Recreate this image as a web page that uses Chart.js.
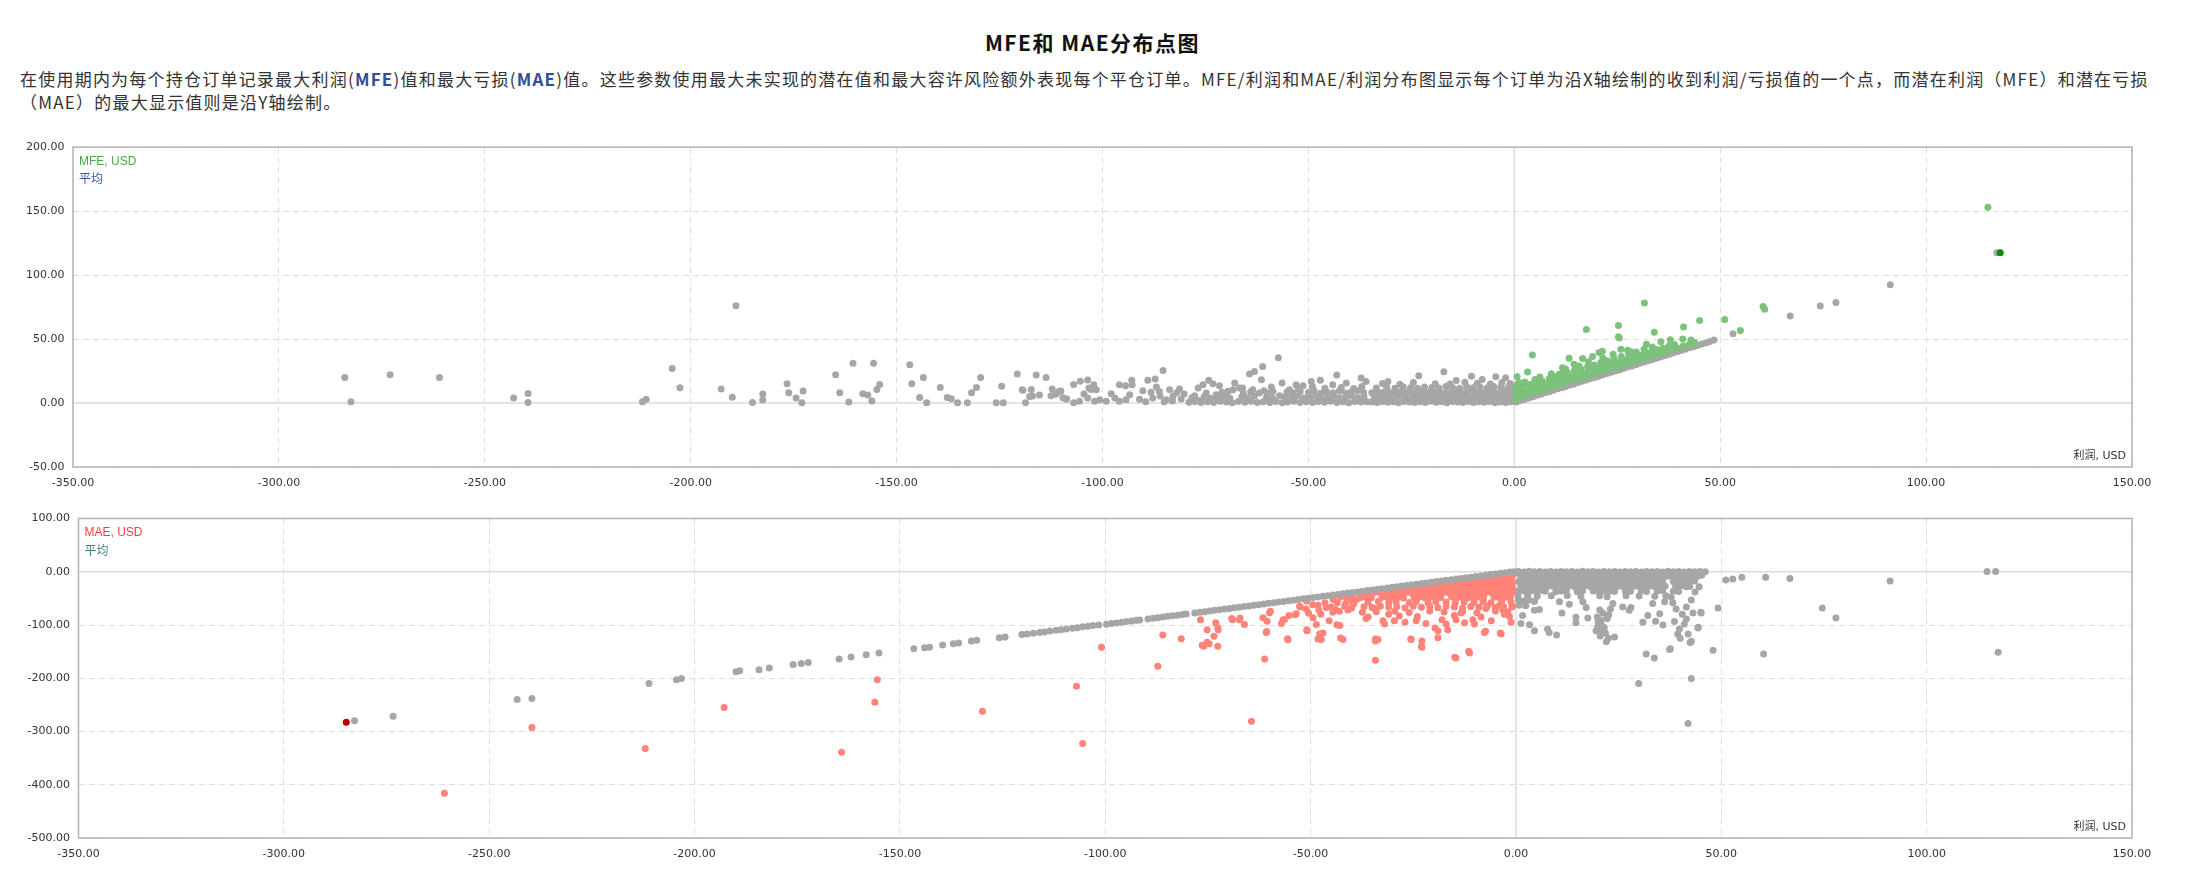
<!DOCTYPE html>
<html>
<head>
<meta charset="utf-8">
<script src="https://cdn.jsdelivr.net/npm/chart.js@4.4.1/dist/chart.umd.min.js"></script>
<style>
    body { margin: 0; background: #fff; width: 2185px; height: 883px; overflow: hidden; position: relative; }
    #titulo { position: absolute; top: 28px; left: 0; width: 2185px; text-align: center; font: bold 21px/28px "Noto Sans CJK SC", sans-serif; letter-spacing: 1.5px; color: #111; }
    #desc { position: absolute; top: 67px; left: 20px; font: 17px/23px "Noto Sans CJK SC", sans-serif; letter-spacing: 1.22px; color: #333; white-space: nowrap; }
    #desc b { color: #2f4f96; }
    #mfe { position: absolute; left: 0; top: 132px; }
    #mae { position: absolute; left: 0; top: 502px; }
</style>
</head>
<body>
<div id="titulo">MFE和 MAE分布点图</div>
<div id="desc">在使用期内为每个持仓订单记录最大利润(<b>MFE</b>)值和最大亏损(<b>MAE</b>)值。这些参数使用最大未实现的潜在值和最大容许风险额外表现每个平仓订单。MFE/利润和MAE/利润分布图显示每个订单为沿X轴绘制的收到利润/亏损值的一个点，而潜在利润（MFE）和潜在亏损<br>（MAE）的最大显示值则是沿Y轴绘制。</div>
<canvas id="mfe" width="2185" height="370"></canvas>
<canvas id="mae" width="2185" height="370"></canvas>
<script>
const xTicks = [-350, -300, -250, -200, -150, -100, -50, 0, 50, 100, 150];
const mfeTicks = [-50, 0, 50, 100, 150, 200];
const maeTicks = [-500, -400, -300, -200, -100, 0, 100];

// MFE chart, grey: losing trades and the profit = MFE diagonal
const mfeGrayLoss = [
[-284,20],[-282.5,1],[-273,22],[-261,20],[-243,4],[-239.5,7.5],[-239.5,0.5],
[-211.7,1],[-210.8,3],[-204.5,27],[-202.6,12],[-189,76],[-192.6,11],[-189.9,4.5],
[-185,0.5],[-182.5,7],[-182.5,2.3],[-176.6,15],[-176.2,8],[-174.4,4],[-172.7,9.4],[-173,0.3],
[-164.8,22],[-163.8,8],[-161.6,0.8],[-160.6,31],[-158.2,7.3],[-157,6.2],[-155.6,31],[-156,1.5],
[-154.8,10.6],[-154.1,14.5],[-146.8,30],[-146.3,15],[-143.5,20],[-144.4,4.4],[-142.7,0.3],
[-139.4,12.2],[-137.7,4.4],[-136.7,3.4],[-135.2,0.3],[-132.8,0.3],[-131.8,8],[-130.6,12.2],[-129.6,20],
[-125.8,0.3],[-124.5,13.2],[-124.1,0.3],[-120.7,22.6],[-119.3,10],[-118.7,0.3],[-117.3,10.6],[-117,5.4],
[-116.1,21.8],[-115.3,6.2],[-113.7,20],[-112.2,11],[-111.3,6.8],[-110.1,9.4],[-109.6,4.2],[-108.7,3.4],
[-107,14.5],[-107,0.3],[-105.4,17],[-103.6,18],[-104.5,7],[-102.8,10.6],[-103.6,4],[-105.6,1.3],[-101.9,1.3],
[-100.7,2.6],[-101.5,10.4],[-102.1,14.3],[-103.3,11.7],[-108.8,3],[-110.6,9],[-112.5,5.7],[-117.7,5],[-119.5,10.4],
[-99.1,1.3],[-97.9,7.3],[-95.9,14.3],[-94.4,13.5],[-92.9,17.7],[-92.8,14.3],[-93.4,6.5],[-95.9,1.3],[-94.3,2.6],
[-89,17.7],[-87.2,18.8],[-85.3,25.5],[-86.9,12.5],[-86.2,9],[-83.7,10.4],[-81.3,11],[-87.8,4],[-84.5,2.6],
[-82.9,5.2],[-80.9,3.1],[-88.2,8.5],[-86,5.5],[-85,1],[-83,1.5],[-82,8],[-80.2,7],[-91,3],[-90.2,9.5],[-89.5,1],[-97,4],
[-76.8,11.7],[-77.6,5.7],[-75.6,14.3],[-74.2,17.7],[-73.2,15.1],[-71.6,13.5],[-74.8,7.8],[-72.4,6.5],[-76.4,2],[-73.2,1.3],
[-70,7.3],[-67.9,15.6],[-68.3,10.4],[-66.7,11.7],[-64.3,22.6],[-63.1,24.7],[-61.1,28.6],[-61.4,18.2],[-63.5,10.4],[-61.9,7.8],
[-57.3,35.4],[-56.4,15.6],[-58.6,9],[-57,5.7],[-54.6,10.4],[-53,14.3],[-51.3,13.5],[-49.3,16.9],[-47.1,17.7],[-44.1,14.3],
[-43.1,21.9],[-40.8,15.6],[-37.2,19.5],[-36,16.9],[-30.7,16.9],[-23.2,21.4],[-17.1,24.5],[-14.1,17.6],[-10.4,21],[-7.8,18.4],
[-4.5,20.5],[-2.1,19.7],
[-79,0.6],[-77.6,1.2],[-76.1,0.4],[-74.5,1],[-73,0.5],[-71.4,1.3],[-69.9,0.7],[-68.5,0.3],[-67,1.1],[-65.4,0.6],
[-63.9,1.4],[-62.4,0.4],[-61,0.9],[-59.4,0.5],[-57.9,1.2],[-56.4,0.3],[-55,0.8],[-53.5,1.3],[-52,0.5],[-50.5,1],
[-49,0.4],[-47.6,1.1],[-46.1,0.6],[-44.6,1.3],[-43.1,0.5],[-41.6,0.9],[-40.2,0.3],[-38.7,1.2],[-37.2,0.7],[-35.8,1],
[-78.3,4.2],[-75.3,5],[-73.8,3.8],[-72.2,4.6],[-70.7,5.3],[-69.1,3.9],[-66.2,4.8],[-64.7,4.1],[-63.1,5.5],[-60.2,4.4],
[-58.7,3.7],[-55.7,4.9],[-54.2,4.2],[-52.7,5.4],[-51.2,3.9],[-49.8,4.7],[-48.3,5.2],[-46.8,3.8],[-45.3,4.5],[-43.8,5.3],
[-42.4,4],[-40.9,4.8],[-39.4,5.5],[-38,4.1],[-36.5,4.9],
[-71,8.4],[-69.5,9.2],[-65.8,7.9],[-64,8.8],[-60.8,9.5],[-59.9,7.6],[-55.2,8.6],[-53.8,7.8],[-52,9.1],[-50,8.2],
[-48.6,9.4],[-47,7.7],[-45.6,8.9],[-44,8.1],[-42.5,9.3],[-41,7.9],[-39.6,8.7],[-38.1,9.6],[-36.6,8.3],
[-66,11.8],[-59,12.5],[-52.5,11.2],[-49,12.8],[-46,11.5],[-42,12.2],[-39,11.4],[-37,12.9],
[-34.6,0.8],[-33.3,0.4],[-32,1.1],[-30.7,0.6],[-29.4,0.9],[-28.1,0.3],[-26.8,1.2],[-25.5,0.7],[-24.2,0.5],[-22.9,1],
[-21.6,0.4],[-20.3,1.3],[-19,0.6],[-17.7,0.9],[-16.4,0.3],[-15.1,1.1],[-13.8,0.7],[-12.5,0.5],[-11.2,1.2],[-9.9,0.4],
[-8.6,0.9],[-7.3,0.6],[-6,1.1],[-4.7,0.3],[-3.4,0.8],[-2.1,0.5],[-0.8,1],
[-34,4.4],[-32.7,5],[-31.4,4.1],[-30.1,4.8],[-28.8,4.3],[-27.5,5.2],[-26.2,4.6],[-24.9,4],[-23.6,5.1],[-22.3,4.5],
[-21,4.9],[-19.7,4.2],[-18.4,5.3],[-17.1,4.7],[-15.8,4.1],[-14.5,5],[-13.2,4.4],[-11.9,4.8],[-10.6,4.2],[-9.3,5.2],
[-8,4.5],[-6.7,4.9],[-5.4,4.3],[-4.1,5.1],[-2.8,4.6],[-1.5,4],[-0.3,4.8],
[-34.6,8.1],[-33.3,8.8],[-32,8.3],[-30.7,9],[-29.4,8],[-28.1,8.6],[-26.8,8.4],[-25.5,9.1],[-24.2,7.9],[-22.9,8.7],
[-21.6,8.2],[-20.3,9],[-19,8.5],[-17.7,7.8],[-16.4,8.9],[-15.1,8.3],[-13.8,8.7],[-12.5,8],[-11.2,9.2],[-9.9,8.4],
[-8.6,8.8],[-7.3,8.1],[-6,9],[-4.7,8.5],[-3.4,8.2],[-2.1,8.9],[-0.8,8.4],
[-33.5,11.8],[-31,12.4],[-29,11.6],[-27,12.8],[-25.2,12],[-23.5,11.5],[-21.8,12.6],[-20,12.1],[-18.3,11.7],[-16.6,12.9],
[-15,12.2],[-13.3,11.6],[-11.6,12.7],[-10,12],[-8.3,12.5],[-6.6,11.8],[-5,12.9],[-3.3,12.3],[-1.6,11.9],[-0.4,12.6],
[-32,15.2],[-27.8,14.6],[-24.5,16],[-19.2,15.1],[-15.6,14.8],[-12,16.3],[-9,15.4],[-5.8,14.9],[-3,16.1],[-1,15.3]
];
const mfeGrayDiag = [
[0.5,0.8],[1.5,1.9],[2.5,2.8],[3.5,4],[4.5,4.9],[5.5,6],[6.5,6.9],[7.5,8.1],[8.5,8.9],[9.5,10],
[10.5,11.1],[11.5,11.9],[12.5,13],[13.5,14.1],[14.5,14.9],[15.5,16],[16.5,17.1],[17.5,18],[18.5,19.1],[19.5,19.9],
[20.5,21],[21.5,22.1],[22.5,23],[23.5,24],[24.5,25.1],[25.5,25.9],[26.5,27],[27.5,28.1],[28.5,29],[29.5,30],
[30.5,31.1],[31.5,32],[32.5,33],[33.5,34.1],[34.5,35],[35.5,36],[36.5,37.1],[37.5,38],[38.5,39],[39.5,40.1],
[40.5,41],[41.5,42],[42.5,43.1],[43.5,44],[44.5,45],[45.5,46.1],[46.5,47],[47.5,48],[48.5,49.2],
[53.1,54.2],[67,68],[74.3,75.8],[78.1,78.6],[91.3,92.4],[117.2,117.5]
];
// MFE chart, green: winning trades
const mfeGreen = [
[4.4,37.6],[3.2,24.2],[17.5,57.4],[25.3,60.5],[25.3,51.8],[25.5,50.8],[31.6,78.2],[34,55.3],[35.6,47.9],[37.9,49.5],
[41.1,59.5],[40.9,50],[42.9,49.2],[45,64.5],[51.1,65.3],[54.9,56.6],[60.4,75.5],[60.8,73.2],[115,153],[25.9,42.1],
[28.3,40],[32.1,46],[32,39.5],[37.8,42.9],[20.6,39.5],[19,36.3],[21.4,40.5],[15.7,29],[14.5,30.3],[12.5,26.3],
[10.9,22.4],[11.7,27.6],[13.3,35],[16.6,34.7],[9.7,18.9],[0.7,20.5],[5,18.4],[0.3,7.9],[0.5,3],[0.4,11.8],
[1.3,15.8],[2.1,11.8],[4,14.5],[6,15.8],[7.6,14.5],
[0.4,3.9],[1.8,5.5],[3.2,6.6],[4.6,8.2],[6,9.4],[7.4,11],[8.8,12.2],[10.2,13.8],[11.6,15],[13,16.6],
[14.4,17.8],[15.8,19.4],[17.2,20.6],[18.6,22.2],[20,23.4],[21.4,25],[22.8,26.2],[24.2,27.8],[25.6,29],[27,30.6],
[28.4,31.8],[29.8,33.4],[31.2,34.6],[32.6,36.2],[34,37.4],[35.4,39],[36.8,40.2],[38.2,41.8],[39.6,43],[41,44.6],
[42.4,45.8],[43.8,47.3],
[1.1,8.3],[2.5,9.4],[3.9,11],[5.3,12.1],[6.7,13.8],[8.1,15],[9.5,16.4],[10.9,17.8],[12.3,19.5],[13.7,20.6],
[15.1,22.2],[16.5,23.4],[17.9,25],[19.3,26.2],[20.7,27.9],[22.1,29],[23.5,30.6],[24.9,31.8],[26.3,33.4],[27.7,34.6],
[29.1,36.2],[30.5,37.3],[31.9,38.9],[33.3,40.1],[34.7,41.8],[36.1,42.9],[37.5,44.4],[38.9,45.7],
[0.5,11],[2,12.6],[3.6,14],[5.2,15.9],[6.8,17.2],[8.5,19.1],[10,20.4],[11.5,22.1],[13,23.4],[14.6,25.3],
[16.2,26.6],[17.8,28.4],[19.4,29.8],[21,31.6],[22.6,33],[24.2,34.8],[26,36.3],[27.8,38.4],[29.6,39.9],[31.5,42.1],
[33.5,43.8],
[0.8,14.9],[2.6,16.5],[6.2,20.4],[9,22.8],[12,26.2],[14.8,28.6],[18,32.3],[21.5,35.4],[24,38.2],[27.5,41.3]
];
const mfeMax = [[118,117.5]];

// MAE chart, grey: loss = MAE diagonal and winning trades
const maeGrayDiag = [
[-282.8,-280],[-273.4,-271.3],[-243.2,-240],[-239.6,-238],[-211.1,-210],[-204.4,-203],[-203.2,-200.6],[-189.9,-188],
[-189,-186],[-184.3,-184],[-181.8,-180.6],[-176,-174],[-174,-172.5],[-172.3,-170.6],[-164.8,-163.8],[-161.9,-160],
[-158.2,-156],[-155.1,-152.5],[-146.6,-144.4],[-144,-142.5],[-142.8,-141.9],[-139.6,-137.5],[-137,-135],[-135.7,-133.8],
[-132.6,-130],[-131.3,-128.8],[-125.8,-123.8],[-124.4,-122.5],
[-120.3,-118],[-119,-117],[-117.5,-115.5],[-116,-114],[-114.8,-113],[-113.5,-111.5],[-112,-110],[-110.8,-109],
[-109.5,-107.5],[-108,-106],[-106.8,-105],[-105.5,-103.5],[-104.2,-102.5],[-103,-101],[-101.6,-99.8],
[-99.7,-98.5],[-98.5,-97.3],[-97.3,-96.2],[-96,-95],[-94.8,-93.6],[-93.6,-92.5],[-92.4,-91.3],[-91.6,-90.5],
[-89.6,-88.6],[-88.4,-87.5],[-87.2,-86.2],[-86,-85],[-84.8,-83.8],[-83.6,-82.6],[-82.4,-81.5],[-81.2,-80.3],[-80.3,-79.4],
[-78.2,-77.3],[-77,-76.1],[-75.8,-74.9],[-74.6,-73.8],[-73.4,-72.5],[-72.2,-71.3],[-71,-70.1],[-69.8,-68.9],[-68.6,-67.8],
[-67.4,-66.5],[-66.2,-65.3],[-65,-64.1],[-63.8,-62.9],[-62.6,-61.8],[-61.4,-60.5],[-60.2,-59.3],[-59,-58.1],[-57.8,-56.9],
[-56.6,-55.8],[-55.4,-54.5],[-54.2,-53.3],[-53,-52.1],[-51.8,-50.9],[-50.6,-49.8],[-49.4,-48.5],[-48.2,-47.3],[-47,-46.1],
[-45.8,-44.9],[-44.6,-43.8],[-43.4,-42.5],[-42.2,-41.3],[-41,-40.1],[-39.8,-38.9],[-38.6,-37.8],[-37.4,-36.5],[-36.2,-35.3],
[-35,-34.1],[-33.8,-32.9],[-32.6,-31.8],[-31.4,-30.5],[-30.2,-29.3],[-29,-28.1],[-27.8,-26.9],[-26.6,-25.8],[-25.4,-24.5],
[-24.2,-23.3],[-23,-22.1],[-21.8,-20.9],[-20.6,-19.8],[-19.4,-18.5],[-18.2,-17.3],[-17,-16.1],[-15.8,-14.9],[-14.6,-13.8],
[-13.4,-12.5],[-12.2,-11.3],[-11,-10.1],[-9.8,-8.9],[-8.6,-7.8],[-7.4,-6.5],[-6.2,-5.3],[-5,-4.1],[-3.8,-2.9],
[-2.6,-1.8],[-1.4,-0.5],[-0.4,0]
];
const maeGrayWin = [
[0.6,0.5],[1.9,-0.4],[3.2,0.8],[4.5,-0.2],[5.8,0.6],[7.1,-0.5],[8.4,0.4],[9.7,-0.3],[11,0.7],[12.3,-0.1],
[13.6,0.5],[14.9,-0.4],[16.2,0.8],[17.5,-0.2],[18.8,0.3],[20.1,-0.5],[21.4,0.6],[22.7,-0.1],[24,0.4],[25.3,-0.3],
[26.6,0.7],[27.9,-0.2],[29.2,0.5],[30.5,-0.4],[31.8,0.6],[33.1,-0.1],[34.4,0.4],[35.7,-0.3],[37,0.8],[38.3,-0.2],
[39.6,0.5],[40.9,-0.4],[42.2,0.6],[43.5,-0.1],[44.8,0.3],[46.1,0.2],
[1.2,-9.5],[2.5,-8.4],[3.8,-10.1],[5.1,-8.9],[6.4,-9.7],[7.7,-8.2],[9,-10.3],[10.3,-9],[11.6,-8.6],[12.9,-9.9],
[14.2,-8.8],[15.5,-10.2],[16.8,-9.3],[18.1,-8.5],[19.4,-9.8],[20.7,-8.7],[22,-10],[23.3,-9.1],[24.6,-8.4],[25.9,-9.6],
[27.2,-8.9],[28.5,-10.4],[29.8,-9.2],[31.1,-8.6],[32.4,-9.9],[33.7,-8.8],[35,-10.1],[36.3,-9.4],[37.6,-8.5],[38.9,-9.7],
[40.2,-8.9],[41.5,-10.2],[42.8,-9.3],[44.1,-8.7],[45.2,-6.5],
[0.6,-18.4],[1.9,-17.6],[3.2,-19.2],[4.5,-18],[5.8,-17.3],[7.1,-18.9],[8.4,-17.8],[9.7,-19.4],[11,-18.2],[12.3,-17.5],
[13.6,-19],[14.9,-18.1],[16.2,-17.4],[17.5,-18.8],[18.8,-19.5],[20.1,-17.9],[21.4,-18.6],[22.7,-17.2],[24,-19.1],[25.3,-18.3],
[26.6,-17.6],[27.9,-18.9],[29.2,-18],[30.5,-19.3],[31.8,-17.7],[33.1,-18.5],[34.4,-19.2],[35.7,-17.8],[38.3,-18.4],
[39.6,-17.5],[40.9,-19],[42.2,-18.1],[43.5,-17.2],
[1.2,-27.5],[2.5,-26.6],[3.8,-28.2],[5.1,-27],[6.4,-26.4],[7.7,-27.9],[9,-26.8],[10.3,-28.4],[11.6,-27.2],[12.9,-26.5],
[14.2,-28],[15.5,-27.1],[16.8,-26.3],[18.1,-27.8],[19.4,-28.5],[20.7,-26.9],[22,-27.6],[23.3,-26.2],[24.6,-28.1],[25.9,-27.3],
[27.2,-26.7],[28.5,-27.9],[29.8,-27],[31.1,-28.3],[32.4,-26.7],[33.7,-27.5],[35,-28.2],[36.3,-26.8],[38.9,-27.4],[40.2,-26.5],
[41.5,-28],[42.3,-27.6],
[0.6,-36.4],[1.9,-35.5],[3.2,-37.1],[4.5,-36],[5.8,-35.3],[7.1,-36.8],[9.7,-37.4],[11,-36.2],[12.3,-35.4],[14.9,-36.9],
[16.2,-35.7],[18.8,-36.3],[20.1,-37.2],[21.4,-35.6],[22.7,-36.5],[24,-37.3],[26.6,-35.8],[27.9,-36.7],[30.5,-35.5],[31.8,-37],
[34.4,-36.1],[35.7,-35.4],[38.3,-36.6],[39.6,-37.1],
[0.5,-45.6],[2.8,-44.8],[5.2,-46.2],[8.6,-45.1],[12.5,-44.6],[15.8,-46],[20.4,-45.3],[22.2,-46.8],[26.8,-44.9],[30,-45.7],
[33.8,-46.1],[36.5,-45],
[0.6,-54],[1.9,-55],[3.2,-53],[4.5,-56],[0.8,-63],[2.4,-64],[1.2,-97],
[51.1,-15.4],[52.8,-13.5],[55,-10.3],[60.8,-10.3],[66.7,-12.8],[49.2,-68],[74.6,-68],[77.9,-87],[60.3,-154.5],[48,-147.4],
[42.4,-132.7],[44.3,-105.8],[45.1,-77.6],[43.1,-77.6],[41.5,-88.5],[41.9,-117],[39.4,-117],[39.8,-107.7],[38.6,-93.6],[37.4,-146],
[35.8,-100],[35,-78.8],[34,-93],[32.1,-82],[30.9,-95],[31.7,-154.5],[33.7,-162],[28,-67.3],[26,-66],[23.6,-59.6],
[22.6,-80.8],[20.7,-91.7],[19.9,-104.5],[19.5,-111],[20.5,-120.5],[22,-131.4],[24,-122.4],[21.5,-104.5],[17.5,-87],[14.6,-85.3],
[14.6,-96],[11.2,-77.6],[9.9,-118.6],[7.7,-107.7],[8.1,-114],[4.5,-111],[3.3,-99.4],[1.6,-82],[4.5,-72.4],[5.7,-71],
[10.6,-56.4],[13,-61],[16.3,-56.4],[17.1,-67.3],[27.6,-72.4],[33.3,-59.6],[36.2,-56.4],[41.5,-66],[42.7,-53.2],[91.1,-17.5],
[114.7,0.5],[116.8,0.5],[117.4,-151],[42.7,-200.6],[41.9,-285],[29.9,-210],[37.6,-144.4],[42.7,-130.6],[45,-76],[44.4,-104],
[20,-95],[21,-110],[20.8,-100],[21.8,-115],[22.5,-125],[19.8,-85],[21.2,-78],[23,-70],[20.4,-72],[22.2,-88],
[39,-70],[40.5,-80],[41,-98],[40,-125],[38.2,-58],[44.6,-28],[43.6,-38],[37.8,-48]
];
// MAE chart, red: losing trades
const maeRed = [
[-260.9,-416],[-239.6,-292.5],[-212,-332],[-192.8,-255],[-155.5,-203],[-156.1,-245],[-164.2,-339],[-129.9,-262],
[-107,-215],[-105.5,-322.5],[-100.9,-142],[-87.2,-177.5],[-86,-118.8],[-81.5,-125.6],[-76.4,-138],[-75.2,-132.5],
[-72.6,-140],[-73.5,-121],[-72.6,-105.6],[-69.2,-88],[-67.2,-87],[-64.4,-280.6],[-61.2,-163.8],[-60.7,-112],
[-59.8,-74.4],[-55.6,-126],[-56.4,-90],[-53.8,-80.6],[-52.5,-66],[-50.9,-108.8],[-48.2,-126.3],[-47,-115],
[-43.6,-99.4],[-42.7,-124.4],[-34.2,-166],[-34.2,-126.3],[-25.6,-126.3],[-23,-140],[-19.7,-105.6],[-14.9,-160.6],
[-11.5,-149.4],[-7.4,-111.9],[-3.8,-115],
[-76.8,-90],[-75.2,-109],[-73.1,-96],[-72.5,-109],[-76,-140],[-74.7,-135],[-69,-90],[-67.3,-90],[-66.1,-99],
[-61.6,-86.5],[-60.6,-93],[-60,-77],[-60.8,-114],[-57.1,-97],[-55.5,-127.6],[-56.7,-90],[-55.3,-82],[-53.5,-79],
[-52.7,-65],[-51.1,-70],[-50.9,-111],[-49.4,-86.5],[-48.6,-99],[-47.8,-117],[-47.4,-127],[-48.2,-63],[-46.2,-67],
[-44.6,-76],[-44,-71],[-45.5,-92],[-42.9,-101],[-42.1,-127],[-41.7,-65],[-39.9,-56],[-40.9,-72],[-37.4,-76],
[-36,-85],[-34.4,-69],[-34.2,-130],[-33.6,-127],[-32.4,-92],[-32,-98],[-29.6,-92],[-28.4,-83],[-25.5,-127],
[-22.9,-130],[-22.9,-141.7],[-24.3,-92],[-21.9,-97],[-19,-111],[-19,-124],[-16.6,-109],[-17,-98],[-14.6,-162],
[-11.3,-152.6],[-14.6,-90],[-13.4,-77.6],[-10.5,-90],[-10.1,-98],[-7.7,-114],[-3.6,-117],[-7.3,-69],[-3.2,-72],
[-1.6,-84],[-0.8,-65],[-4,-63],
[-44.5,-52],[-42.8,-48],[-41.2,-50],[-40,-45],[-43.5,-58],[-39.5,-60],
[-51,-55],[-49.5,-62],[-48,-72],[-46.5,-58],[-45,-66],[-43,-74],[-41.5,-60],[-40,-68],[-38.8,-52],[-47.5,-80],[-50.5,-78],
[-2.6,-3.5],[-1.3,-2.5],[-0.2,-3],
[-11.5,-12.5],[-10.2,-11.4],[-8.9,-12.8],[-7.6,-11.6],[-6.3,-12.2],[-5,-11],[-3.7,-12.6],[-2.4,-11.8],[-1.1,-12.3],
[-20.4,-21.5],[-19.1,-20.6],[-17.8,-22],[-16.5,-21],[-15.2,-20.5],[-13.9,-21.8],[-12.6,-20.8],[-11.3,-22.2],[-10,-21.2],
[-8.7,-20.4],[-7.4,-21.6],[-6.1,-20.9],[-4.8,-22.1],[-3.5,-21],[-2.2,-20.6],[-0.9,-21.7],
[-29.4,-30.5],[-28.1,-29.6],[-26.8,-31],[-25.5,-30],[-24.2,-29.4],[-22.9,-30.8],[-21.6,-29.8],[-20.3,-31.2],[-19,-30.2],
[-17.7,-29.5],[-16.4,-30.7],[-15.1,-29.9],[-13.8,-31.1],[-12.5,-30.1],[-11.2,-29.6],[-9.9,-30.9],[-8.6,-29.7],[-7.3,-31],
[-6,-30.3],[-4.7,-29.5],[-3.4,-30.6],[-2.1,-29.8],[-0.8,-30.9],
[-38.4,-39.5],[-37.1,-38.6],[-35.8,-40],[-34.5,-39],[-33.2,-38.4],[-31.9,-39.8],[-30.6,-38.8],[-29.3,-40.2],[-28,-39.2],
[-26.7,-38.5],[-25.4,-39.7],[-24.1,-38.9],[-22.8,-40.1],[-21.5,-39.1],[-20.2,-38.6],[-18.9,-39.9],[-17.6,-38.7],[-16.3,-40],
[-15,-39.3],[-13.7,-38.5],[-12.4,-39.6],[-11.1,-38.8],[-9.8,-40.2],[-8.5,-39],[-7.2,-38.4],[-5.9,-39.8],[-4.6,-38.9],
[-3.3,-40],[-2,-39.2],[-0.7,-38.6],
[-37.8,-48.3],[-36.5,-47.4],[-35.2,-49],[-32.6,-48],[-31.3,-47.2],[-30,-48.8],[-28.7,-47.7],[-27.4,-49.2],[-24.8,-48.1],
[-23.5,-47.3],[-22.2,-48.9],[-20.9,-47.8],[-19.6,-49.1],[-18.3,-48.2],[-15.7,-47.5],[-14.4,-48.7],[-13.1,-47.9],[-11.8,-49.3],
[-10.5,-48.4],[-9.2,-47.6],[-7.9,-48.8],[-5.3,-47.7],[-4,-49],[-2.7,-48.2],[-1.4,-47.4],
[-36,-57.5],[-33.5,-56],[-31,-58.2],[-29.2,-56.6],[-26,-57.8],[-24.3,-55.9],[-21.4,-58.4],[-19.5,-56.8],[-17,-57.2],
[-14.8,-58.6],[-12.6,-56.3],[-10.2,-57.9],[-8,-56.5],[-6.1,-58.1],[-3.5,-57],[-1.2,-56.2],
[-37,-65.5],[-35,-67.2],[-33,-64.8],[-31,-66.6],[-29,-65.2],[-27,-67.8],[-25,-64.6],[-23,-66.9],[-21,-65.4],[-19,-67.5],
[-17,-64.9],[-15,-66.3],[-13,-67.9],[-11,-65.1],[-9,-66.7],[-7,-64.7],[-5,-67.3],[-3,-65.6],[-1,-66.4],
[-34,-75],[-29.5,-74],[-26,-76.5],[-21,-73.5],[-17.5,-75.8],[-13,-74.2],[-9.5,-76.8],[-5,-73.8],[-2,-75.5],
[-36.5,-88],[-31,-80],[-27,-95],[-24,-84],[-18,-90],[-15,-82],[-12.5,-96],[-8.5,-85],[-6,-92],[-2.8,-80],[-1.2,-95]
];
const maeMax = [[-284.8,-282.5]];

const gray = '#a6a6a6';

const framePlugin = {
    id: 'frame',
    beforeDatasetsDraw(chart, args, opts) {
        const ctx = chart.ctx;
        const area = chart.chartArea;
        const x0 = chart.scales.x.getPixelForValue(0);
        const y0 = chart.scales.y.getPixelForValue(0);
        ctx.save();
        ctx.strokeStyle = '#dcdcdc';
        ctx.lineWidth = 1.5;
        ctx.beginPath();
        ctx.moveTo(x0, area.top); ctx.lineTo(x0, area.bottom);
        ctx.moveTo(area.left, y0); ctx.lineTo(area.right, y0);
        ctx.stroke();
        ctx.strokeStyle = '#b3b3b3';
        ctx.strokeRect(area.left, area.top, area.right - area.left, area.bottom - area.top);
        ctx.restore();
    },
    afterDraw(chart, args, opts) {
        const ctx = chart.ctx;
        const area = chart.chartArea;
        ctx.save();
        ctx.textBaseline = 'middle';
        ctx.font = '12px "Liberation Sans", "Noto Sans CJK SC"';
        ctx.fillStyle = opts.nameColor;
        ctx.fillText(opts.name, area.left + 6, area.top + 14.5);
        ctx.fillStyle = opts.avgColor;
        ctx.fillText('平均', area.left + 6, area.top + 33);
        ctx.font = '11px "DejaVu Sans", "Noto Sans CJK SC"';
        ctx.fillStyle = '#333';
        ctx.textAlign = 'right';
        ctx.fillText('利润, USD', area.right - 6, area.bottom - 11);
        ctx.restore();
    }
};

function scatterSet(data, color, order) {
    return {
        data: data.map(p => ({x: p[0], y: p[1]})),
        backgroundColor: color,
        borderWidth: 0,
        pointRadius: 3.5,
        pointHoverRadius: 3.5,
        order: order
    };
}

function makeChart(canvasId, datasets, yTicks, yWidth, xHeight, padTop, frameOpts) {
    const tickFont = {family: '"DejaVu Sans"', size: 11};
    return new Chart(document.getElementById(canvasId), {
        type: 'scatter',
        data: {datasets: datasets},
        options: {
            responsive: false,
            animation: false,
            events: [],
            layout: {padding: {top: padTop, right: 53, left: 0, bottom: 0}},
            plugins: {legend: false, tooltip: {enabled: false}, frame: frameOpts},
            scales: {
                x: {
                    min: xTicks[0],
                    max: xTicks[xTicks.length - 1],
                    afterBuildTicks: s => { s.ticks = xTicks.map(v => ({value: v})); },
                    afterFit: s => { s.height = xHeight; },
                    ticks: {callback: v => v.toFixed(2), font: tickFont, color: '#333', padding: 10, maxRotation: 0, autoSkip: false},
                    grid: {color: c => (c.tick && c.tick.value === 0) ? 'rgba(0,0,0,0)' : '#dedede', drawTicks: false, lineWidth: 1},
                    border: {display: false, dash: [6, 4]}
                },
                y: {
                    min: yTicks[0],
                    max: yTicks[yTicks.length - 1],
                    afterBuildTicks: s => { s.ticks = yTicks.map(v => ({value: v})); },
                    afterFit: s => { s.width = yWidth; },
                    ticks: {callback: v => v.toFixed(2), font: tickFont, color: '#333', padding: 8.5},
                    grid: {color: c => (c.tick && c.tick.value === 0) ? 'rgba(0,0,0,0)' : '#dedede', drawTicks: false, lineWidth: 1},
                    border: {display: false, dash: [6, 4]}
                }
            }
        },
        plugins: [framePlugin]
    });
}

makeChart('mfe', [
    scatterSet(mfeMax, '#0b8c0b', 0),
    scatterSet(mfeGreen, '#7cc27c', 1),
    scatterSet(mfeGrayDiag.concat(mfeGrayLoss), gray, 2)
], mfeTicks, 73, 35, 15, {name: 'MFE, USD', nameColor: '#4aa64a', avgColor: '#3a5aa6'});

makeChart('mae', [
    scatterSet(maeMax, '#c00000', 0),
    scatterSet(maeGrayDiag.concat(maeGrayWin), gray, 1),
    scatterSet(maeRed, '#ff8379', 2)
], maeTicks, 78.5, 34, 16.5, {name: 'MAE, USD', nameColor: '#ff3b3b', avgColor: '#3c8585'});
</script>
</body>
</html>
